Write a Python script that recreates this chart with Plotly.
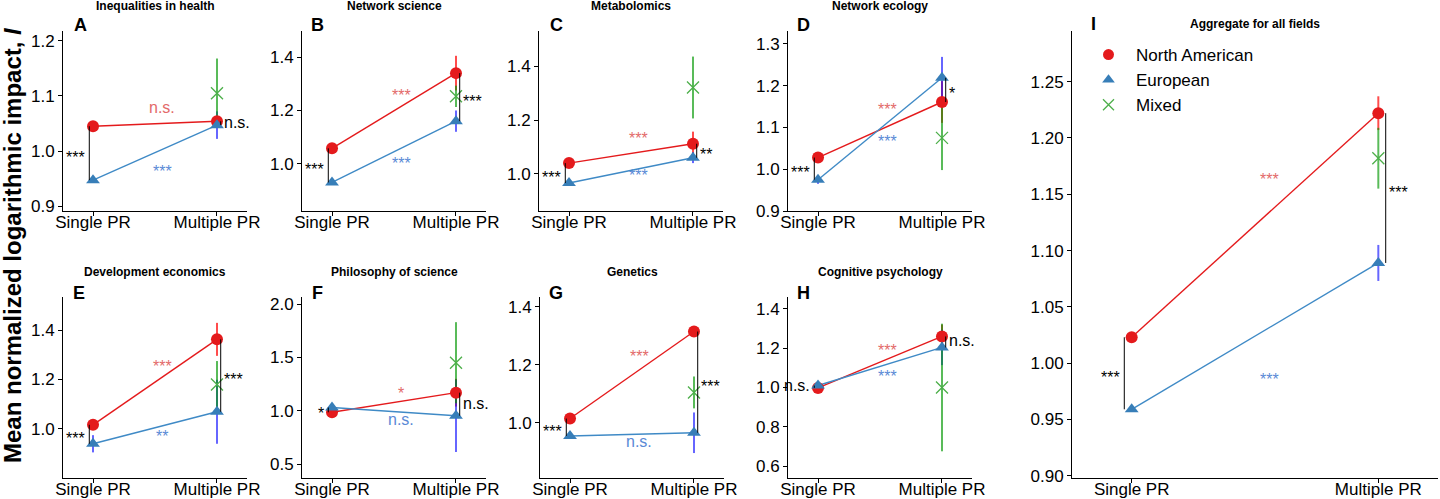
import plotly.graph_objects as go

# ---------------- data ----------------
panels = ["A", "B", "C", "D", "E", "F", "G", "H", "I"]
titles = ["Inequalities in health", "Network science", "Metabolomics", "Network ecology",
          "Development economics", "Philosophy of science", "Genetics",
          "Cognitive psychology", "Aggregate for all fields"]
categories = ["Single PR", "Multiple PR"]
groups = ["North American", "European", "Mixed"]

na_single = [1.045, 1.058, 1.040, 1.028, 1.016, 0.985, 1.015, 0.998, 1.023]
na_multiple = [1.054, 1.340, 1.112, 1.161, 1.363, 1.169, 1.315, 1.260, 1.222]
eu_single = [0.947, 0.930, 0.966, 0.975, 0.939, 1.030, 0.955, 1.010, 0.959]
eu_multiple = [1.047, 1.160, 1.060, 1.219, 1.069, 0.953, 0.966, 1.204, 1.089]
mixed_multiple = [1.105, 1.253, 1.321, 1.075, 1.180, 1.450, 1.105, 1.000, 1.182]

na_single_err = [0.005, 0.005, 0.005, 0.008, 0.010, 0.020, 0.005, 0.010, 0.003]
na_multiple_err = [0.010, 0.065, 0.045, 0.050, 0.067, 0.130, 0.015, 0.060, 0.015]
eu_single_err = [0.005, 0.005, 0.005, 0.010, 0.035, 0.020, 0.005, 0.010, 0.002]
eu_multiple_err = [0.025, 0.040, 0.020, 0.050, 0.130, 0.340, 0.070, 0.090, 0.016]
mixed_multiple_err = [0.063, 0.040, 0.115, 0.077, 0.095, 0.380, 0.055, 0.325, 0.027]

na_sig = ["n.s.", "***", "***", "***", "***", "*", "***", "***", "***"]
eu_sig = ["***", "***", "***", "***", "**", "n.s.", "n.s.", "***", "***"]
single_sig = ["***", "***", "***", "***", "***", "*", "***", "n.s.", "***"]
multiple_sig = ["n.s.", "***", "**", "*", "***", "n.s.", "***", "n.s.", "***"]

y_ticks = [
    [0.9, 1.0, 1.1, 1.2],
    [1.0, 1.2, 1.4],
    [1.0, 1.2, 1.4],
    [0.9, 1.0, 1.1, 1.2, 1.3],
    [1.0, 1.2, 1.4],
    [0.5, 1.0, 1.5, 2.0],
    [1.0, 1.2, 1.4],
    [0.6, 0.8, 1.0, 1.2, 1.4],
    [0.90, 0.95, 1.00, 1.05, 1.10, 1.15, 1.20, 1.25],
]

# ---------------- layout / style ----------------
W, H = 1440, 499
FONT = "Liberation Sans, Arial, sans-serif"
dom_x = [(63, 247), (302, 486), (539, 723), (788, 972),
         (63, 247), (302, 486), (540, 724), (788, 972), (1072, 1438)]
dom_y = [(31, 211)] * 4 + [(297, 478)] * 4 + [(31, 478)]
y_ranges = [(0.891, 1.218), (0.823, 1.498), (0.862, 1.531), (0.900, 1.331),
            (0.800, 1.535), (0.369, 2.066), (0.810, 1.434), (0.539, 1.461),
            (0.898, 1.295)]
tick_fmt = [".1f"] * 8 + [".2f"]
title_y = [6] * 4 + [272] * 4 + [24]
letter_y = [25] * 4 + [293] * 4 + [24]
letter_dx = [17, 15, 17, 15, 16, 15, 16, 15, 21]
red_shift = [15, 15, 18, 21, 14, 12, 17, 13, 36]
blue_shift = [-18, -11, -3, -15, -7, -8, -8, -8, -48]

RED = "#E41A1C"
BLUE = "#377EB8"
GREEN = "#4DAF4A"
RED_ERR = "rgba(255,0,0,0.7)"
BLUE_ERR = "rgba(0,0,255,0.6)"
GREEN_ERR = "rgba(0,150,0,0.65)"
RED_TXT = "#E36A6A"
BLUE_TXT = "#5A8AD6"
X_SING, X_MULT = 1, 2
LABEL_X = 1.56
BR_OFF = 0.03


def px_x(p):
    return p / W


def px_y(p):
    return 1 - p / H


def glyph_shift(txt):
    return -4 if "*" in txt else 1


fig = go.Figure()
annotations = []
shapes = []
layout_axes = {}

for i in range(9):
    k = "" if i == 0 else str(i + 1)
    xa, ya = "x" + k, "y" + k
    xs = [X_SING, X_MULT]

    # error bars (drawn first)
    fig.add_trace(go.Scatter(x=xs, y=[na_single[i], na_multiple[i]], xaxis=xa, yaxis=ya,
                             mode="markers", marker=dict(size=1, opacity=0), showlegend=False,
                             hoverinfo="skip",
                             error_y=dict(type="data", array=[na_single_err[i], na_multiple_err[i]],
                                          color=RED_ERR, thickness=2, width=0)))
    fig.add_trace(go.Scatter(x=xs, y=[eu_single[i], eu_multiple[i]], xaxis=xa, yaxis=ya,
                             mode="markers", marker=dict(size=1, opacity=0), showlegend=False,
                             hoverinfo="skip",
                             error_y=dict(type="data", array=[eu_single_err[i], eu_multiple_err[i]],
                                          color=BLUE_ERR, thickness=2, width=0)))
    fig.add_trace(go.Scatter(x=[X_MULT], y=[mixed_multiple[i]], xaxis=xa, yaxis=ya,
                             mode="markers", marker=dict(size=1, opacity=0), showlegend=False,
                             hoverinfo="skip",
                             error_y=dict(type="data", array=[mixed_multiple_err[i]],
                                          color=GREEN_ERR, thickness=2, width=0)))
    # lines
    fig.add_trace(go.Scatter(x=xs, y=[na_single[i], na_multiple[i]], xaxis=xa, yaxis=ya,
                             mode="lines", line=dict(color=RED, width=1.4), showlegend=False))
    fig.add_trace(go.Scatter(x=xs, y=[eu_single[i], eu_multiple[i]], xaxis=xa, yaxis=ya,
                             mode="lines", line=dict(color="#3F8AC6", width=1.4), showlegend=False))
    # points
    fig.add_trace(go.Scatter(x=xs, y=[na_single[i], na_multiple[i]], xaxis=xa, yaxis=ya,
                             mode="markers", marker=dict(symbol="circle", size=12, color=RED),
                             showlegend=False))
    fig.add_trace(go.Scatter(x=xs, y=[eu_single[i], eu_multiple[i]], xaxis=xa, yaxis=ya,
                             mode="markers", marker=dict(symbol="triangle-up", size=12, color=BLUE),
                             showlegend=False))
    fig.add_trace(go.Scatter(x=[X_MULT], y=[mixed_multiple[i]], xaxis=xa, yaxis=ya,
                             mode="markers",
                             marker=dict(symbol="x-thin-open", size=12, color=GREEN,
                                         line=dict(color=GREEN, width=1.3)),
                             showlegend=False))

    # axes
    x0, x1 = dom_x[i]
    y0, y1 = dom_y[i]
    layout_axes["xaxis" + k] = dict(
        domain=[px_x(x0), px_x(x1)], anchor=ya, range=[0.758, 2.242], automargin=False,
        tickvals=[X_SING, X_MULT], ticktext=categories, showline=True, linecolor="black",
        linewidth=1, ticks="outside", ticklen=4, tickcolor="black", showgrid=False,
        ticklabelstandoff=-8,
        zeroline=False, tickfont=dict(family=FONT, size=17, color="black"), fixedrange=True)
    layout_axes["yaxis" + k] = dict(
        domain=[px_y(y1), px_y(y0)], anchor=xa, range=list(y_ranges[i]), automargin=False,
        tickvals=y_ticks[i], tickformat=tick_fmt[i], showline=True, linecolor="black",
        linewidth=1, ticks="outside", ticklen=4, tickcolor="black", showgrid=False,
        zeroline=False, tickfont=dict(family=FONT, size=17, color="black"), fixedrange=True)

    # panel title and letter
    annotations.append(dict(text="<b>" + titles[i] + "</b>", xref="paper", yref="paper",
                            x=px_x((x0 + x1) / 2), y=px_y(title_y[i]), xanchor="center",
                            yanchor="middle", showarrow=False,
                            font=dict(family=FONT, size=12, color="black")))
    annotations.append(dict(text="<b>" + panels[i] + "</b>", xref="paper", yref="paper",
                            x=px_x(x0 + letter_dx[i]), y=px_y(letter_y[i]), xanchor="center",
                            yanchor="middle", showarrow=False,
                            font=dict(family=FONT, size=18, color="black")))

    # within-group significance labels
    red_y = na_single[i] + (LABEL_X - X_SING) * (na_multiple[i] - na_single[i])
    blue_y = eu_single[i] + (LABEL_X - X_SING) * (eu_multiple[i] - eu_single[i])
    annotations.append(dict(text=na_sig[i], xref=xa, yref=ya, x=LABEL_X, y=red_y,
                            yshift=red_shift[i] + glyph_shift(na_sig[i]), showarrow=False,
                            xanchor="center", yanchor="middle",
                            font=dict(family=FONT, size=16, color=RED_TXT)))
    annotations.append(dict(text=eu_sig[i], xref=xa, yref=ya, x=LABEL_X, y=blue_y,
                            yshift=blue_shift[i] + glyph_shift(eu_sig[i]), showarrow=False,
                            xanchor="center", yanchor="middle",
                            font=dict(family=FONT, size=16, color=BLUE_TXT)))

    # between-group brackets
    shapes.append(dict(type="line", xref=xa, yref=ya, x0=X_SING - BR_OFF, x1=X_SING - BR_OFF,
                       y0=eu_single[i], y1=na_single[i], line=dict(color="black", width=1)))
    shapes.append(dict(type="line", xref=xa, yref=ya, x0=X_MULT + BR_OFF, x1=X_MULT + BR_OFF,
                       y0=eu_multiple[i], y1=na_multiple[i], line=dict(color="black", width=1)))
    sy = (na_single[i] + eu_single[i]) / 2
    my = (na_multiple[i] + eu_multiple[i]) / 2
    annotations.append(dict(text=single_sig[i], xref=xa, yref=ya, x=X_SING - BR_OFF, y=sy,
                            xshift=-2, yshift=glyph_shift(single_sig[i]), showarrow=False,
                            xanchor="right", yanchor="middle",
                            font=dict(family=FONT, size=16, color="black")))
    annotations.append(dict(text=multiple_sig[i], xref=xa, yref=ya, x=X_MULT + BR_OFF, y=my,
                            xshift=1, yshift=glyph_shift(multiple_sig[i]), showarrow=False,
                            xanchor="left", yanchor="middle",
                            font=dict(family=FONT, size=16, color="black")))

# legend entries
legend_styles = [dict(symbol="circle", size=11, color=RED),
                 dict(symbol="triangle-up", size=11, color=BLUE),
                 dict(symbol="x-thin-open", size=11, color=GREEN, line=dict(color=GREEN, width=1.3))]
for name, mk in zip(groups, legend_styles):
    fig.add_trace(go.Scatter(x=[None], y=[None], xaxis="x9", yaxis="y9", mode="markers",
                             name=name, marker=mk, showlegend=True))

# common y-axis title
annotations.append(dict(text="<b>Mean normalized logarithmic impact, <i>I</i></b>",
                        xref="paper", yref="paper", x=px_x(13), y=px_y(245),
                        xanchor="center", yanchor="middle", textangle=-90, showarrow=False,
                        font=dict(family=FONT, size=24, color="black")))

fig.update_layout(
    template="none",
    width=W, height=H, autosize=False,
    margin=dict(l=0, r=0, t=0, b=0, pad=0),
    paper_bgcolor="white", plot_bgcolor="white",
    font=dict(family=FONT, color="black"),
    annotations=annotations, shapes=shapes,
    legend=dict(x=px_x(1081), y=px_y(37), xanchor="left", yanchor="top",
                font=dict(family=FONT, size=17, color="black"), bgcolor="rgba(0,0,0,0)",
                tracegroupgap=0, itemsizing="trace", itemwidth=45),
    **layout_axes,
)

fig.write_html("out.html", config={"displayModeBar": False},
               post_script="document.body.style.margin='0px';"
                           "document.body.style.overflow='hidden';")
